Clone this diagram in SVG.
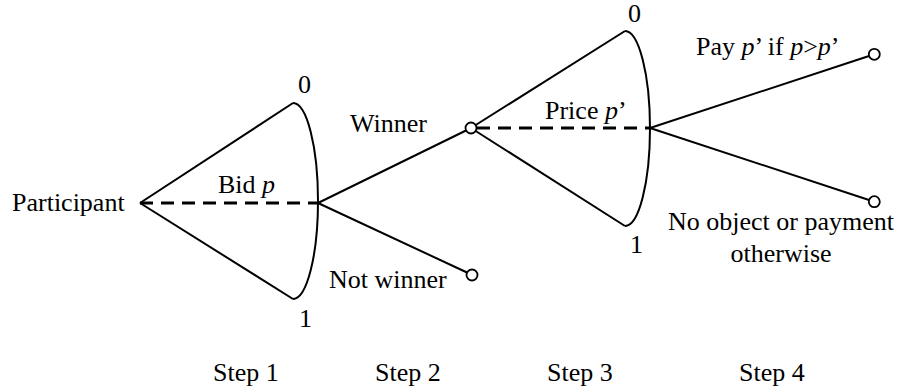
<svg xmlns="http://www.w3.org/2000/svg" width="899" height="389" viewBox="0 0 899 389">
  <style>
    text { font-family: "Liberation Serif", "Times New Roman", serif; font-size: 26px; fill: #000; }
    .it { font-style: italic; }
    .edge { stroke: #000; stroke-width: 2; fill: none; }
    .info { stroke: #000; stroke-width: 3; stroke-dasharray: 13 8; fill: none; }
    .term { fill: #fff; stroke: #000; stroke-width: 1.8; }
  </style>
  <rect width="899" height="389" fill="#fff"/>
  <g id="connectors">
    <line class="edge" x1="140" y1="203" x2="293" y2="103"/>
    <line class="edge" x1="140" y1="203" x2="293" y2="299"/>
    <path class="edge" d="M293,103 A25,98 0 0,1 293,299"/>
    <line class="info" x1="140" y1="203" x2="318" y2="203"/>
    <line class="edge" x1="318" y1="203" x2="466" y2="130.5"/>
    <line class="edge" x1="318" y1="203" x2="467" y2="272.5"/>
    <line class="edge" x1="471" y1="128" x2="625" y2="31"/>
    <line class="edge" x1="471" y1="128" x2="625" y2="226"/>
    <path class="edge" d="M625,31 A25,97.5 0 0,1 625,226"/>
    <line class="info" x1="477" y1="128" x2="650" y2="128"/>
    <line class="edge" x1="650" y1="128" x2="869" y2="56"/>
    <line class="edge" x1="650" y1="128" x2="869" y2="200"/>
  </g>
  <g id="participant">
    <text x="12" y="211">Participant</text>
  </g>
  <g id="bid-set">
    <text x="218" y="193">Bid <tspan class="it">p</tspan></text>
    <text x="298" y="93">0</text>
    <text x="299" y="327">1</text>
  </g>
  <g id="winner">
    <circle class="term" cx="471" cy="128" r="5.5"/>
    <text x="350" y="132">Winner</text>
  </g>
  <g id="not-winner">
    <circle class="term" cx="472" cy="275" r="5.5"/>
    <text x="329" y="288">Not winner</text>
  </g>
  <g id="price-set">
    <text x="545" y="119">Price <tspan class="it">p</tspan>’</text>
    <text x="628" y="22">0</text>
    <text x="630" y="253">1</text>
  </g>
  <g id="pay">
    <circle class="term" cx="874.3" cy="54.3" r="5.5"/>
    <text x="696" y="55">Pay <tspan class="it">p</tspan>’ if <tspan class="it">p</tspan>&gt;<tspan class="it">p</tspan>’</text>
  </g>
  <g id="no-object">
    <circle class="term" cx="874.3" cy="201.7" r="5.5"/>
    <text x="781" y="230" text-anchor="middle">No object or payment</text>
    <text x="781" y="262" text-anchor="middle">otherwise</text>
  </g>
  <g id="steps">
    <text x="213" y="381">Step 1</text>
    <text x="375" y="381">Step 2</text>
    <text x="547" y="381">Step 3</text>
    <text x="739" y="381">Step 4</text>
  </g>
</svg>
